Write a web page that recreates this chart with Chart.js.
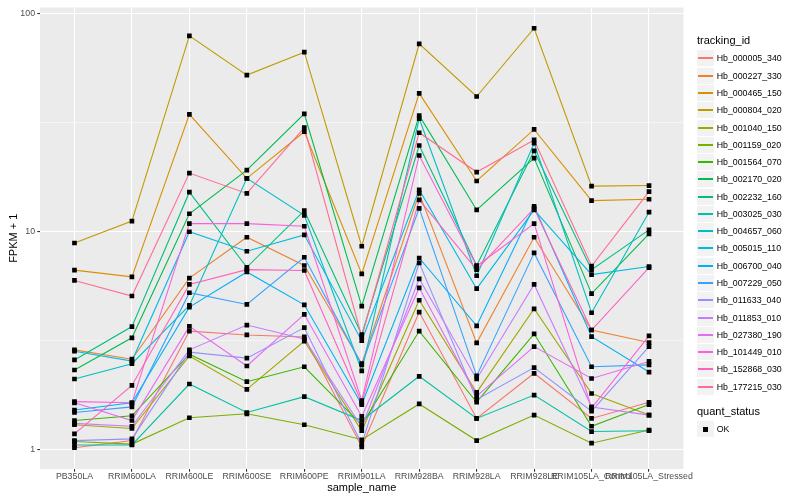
<!DOCTYPE html>
<html>
<head>
<meta charset="utf-8">
<script src="https://cdn.jsdelivr.net/npm/chart.js@4"></script>
<style>
  body { margin: 0; background: #fff; }
  #wrap { position: relative; width: 800px; height: 500px; font-family: 'Liberation Sans', Arial, sans-serif; color: #000; }
  #chart { position: absolute; left: 0; top: 0; }
  .ttl { position: absolute; font-size: 11px; line-height: 13px; white-space: nowrap; }
  .key { position: absolute; width: 17px; height: 16px; background: #f2f2f2; }
  .key span { position: absolute; left: 1px; width: 15px; top: 7px; height: 2px; }
  .key b { position: absolute; left: 6px; top: 6px; width: 5px; height: 5px; background: #000; }
  .lbl { position: absolute; font-size: 8.8px; line-height: 10px; white-space: nowrap; }
</style>
</head>
<body>
<div id="wrap">
  <canvas id="chart" width="800" height="500"></canvas>
  <div id="legend"></div>
</div>
<script>
const categories = ['PB350LA', 'RRIM600LA', 'RRIM600LE', 'RRIM600SE', 'RRIM600PE', 'RRIM901LA',
  'RRIM928BA', 'RRIM928LA', 'RRIM928LE', 'RRIM105LA_Control', 'RRIM105LA_Stressed'];

const trackingIds = ['Hb_000005_340', 'Hb_000227_330', 'Hb_000465_150', 'Hb_000804_020', 'Hb_001040_150',
  'Hb_001159_020', 'Hb_001564_070', 'Hb_002170_020', 'Hb_002232_160', 'Hb_003025_030',
  'Hb_004657_060', 'Hb_005015_110', 'Hb_006700_040', 'Hb_007229_050', 'Hb_011633_040',
  'Hb_011853_010', 'Hb_027380_190', 'Hb_101449_010', 'Hb_152868_030', 'Hb_177215_030'];

// FPKM + 1, one row per tracking id, in category order
const hb000005 = [1.02, 1.10, 3.5, 3.36, 3.29, 1.03, 4.28, 1.39, 2.24, 1.39, 1.65];
const hb000227 = [2.87, 2.60, 6.13, 9.44, 7.0, 2.48, 15.0, 3.09, 9.44, 3.54, 3.10];
const hb000465 = [6.67, 6.21, 34.6, 17.6, 28.8, 6.41, 43.2, 17.1, 29.5, 13.9, 14.1];
const hb000804 = [8.88, 11.2, 79.3, 52.4, 66.8, 8.58, 72.9, 41.8, 86, 16.2, 16.3];
const hb001040 = [1.30, 1.25, 2.69, 1.89, 3.15, 1.22, 4.85, 1.83, 4.43, 1.81, 1.44];
const hb001159 = [1.09, 1.06, 1.40, 1.46, 1.30, 1.11, 1.62, 1.10, 1.44, 1.07, 1.23];
const hb001564 = [1.36, 1.43, 2.74, 2.05, 2.40, 1.30, 3.50, 1.65, 3.40, 1.28, 1.61];
const hb002170 = [2.32, 3.26, 12.1, 19.2, 34.8, 4.56, 34.2, 12.6, 21.8, 5.2, 9.78];
const hb002232 = [2.58, 3.67, 15.2, 6.87, 12.5, 3.37, 24.9, 7.0, 23.5, 6.7, 10.2];
const hb003025 = [1.05, 1.05, 2.0, 1.48, 1.75, 1.36, 2.17, 1.39, 1.78, 1.21, 1.22];
const hb004657 = [2.11, 2.48, 4.59, 17.6, 11.9, 2.30, 33.1, 6.28, 25.5, 4.25, 12.3];
const hb005015 = [2.83, 2.55, 10.0, 8.14, 9.68, 3.16, 15.6, 5.48, 12.6, 6.36, 6.93];
const hb006700 = [1.52, 1.64, 4.51, 6.54, 4.62, 1.61, 7.58, 3.70, 13.1, 3.30, 2.27];
const hb007229 = [1.48, 1.57, 5.25, 4.64, 7.64, 2.45, 12.8, 2.18, 8.0, 2.40, 2.45];
const hb011633 = [1.10, 1.12, 2.80, 2.63, 3.63, 1.06, 7.2, 1.70, 2.38, 1.50, 2.97];
const hb011853 = [1.32, 1.28, 2.87, 3.73, 3.22, 1.27, 6.08, 2.11, 5.73, 1.57, 1.44];
const hb027380 = [1.64, 1.36, 3.68, 2.42, 4.18, 1.42, 5.53, 1.76, 2.97, 2.12, 2.54];
const hb101449 = [1.66, 1.64, 10.9, 10.9, 10.6, 1.68, 22.4, 6.96, 10.9, 1.55, 3.33];
const hb152868 = [1.18, 1.97, 5.73, 6.7, 6.64, 1.64, 14.0, 6.7, 12.8, 3.54, 6.84];
const hb177215 = [5.98, 5.07, 18.6, 15.0, 30.1, 3.30, 28.5, 18.8, 26.4, 6.96, 15.3];

const seriesValues = [hb000005, hb000227, hb000465, hb000804, hb001040, hb001159, hb001564,
  hb002170, hb002232, hb003025, hb004657, hb005015, hb006700, hb007229, hb011633,
  hb011853, hb027380, hb101449, hb152868, hb177215];

const colors = ['#F8766D', '#EA8331', '#D89000', '#C09B00', '#A3A500', '#7CAE00', '#39B600',
  '#00BB4E', '#00BF7D', '#00C1A3', '#00BFC4', '#00BAE0', '#00B0F6', '#35A2FF', '#9590FF',
  '#C77CFF', '#E76BF3', '#FA62DB', '#FF62BC', '#FF6C91'];

const yMajor = [1, 10, 100];
const yMinor = [Math.sqrt(10), Math.sqrt(1000)];

const font = "'Liberation Sans', Arial, sans-serif";
Chart.defaults.font.family = font;

const panelBg = {
  id: 'panelBg',
  beforeDraw(chart) {
    const { ctx, chartArea: a } = chart;
    ctx.save();
    ctx.fillStyle = '#EBEBEB';
    ctx.fillRect(a.left, a.top, a.right - a.left, a.bottom - a.top);
    ctx.restore();
  }
};

const lineSets = seriesValues.map((vals, i) => ({
  type: 'line',
  label: trackingIds[i],
  data: vals.map((v, j) => ({ x: j, y: v })),
  borderColor: colors[i],
  borderWidth: 1.1,
  pointRadius: 0,
  fill: false,
  tension: 0,
  order: seriesValues.length - i
}));

const pointSet = {
  type: 'scatter',
  label: 'OK',
  data: seriesValues.flatMap(vals => vals.map((v, j) => ({ x: j, y: v }))),
  pointStyle: 'rect',
  pointRadius: 3.3,
  backgroundColor: '#000',
  borderWidth: 0,
  showLine: false,
  order: 0
};

const isMajor = v => yMajor.some(m => Math.abs(m - v) < 1e-6);

const options = {
  responsive: false,
  animation: false,
  layout: { padding: { left: 0, right: 116.5, top: 5.5, bottom: 0 } },
  plugins: { legend: { display: false }, tooltip: { enabled: false } },
  scales: {
    x: {
      type: 'linear',
      min: -0.6,
      max: 10.6,
      afterBuildTicks: s => { s.ticks = categories.map((c, i) => ({ value: i })); },
      afterFit: s => { s.height = 31; },
      border: { display: false },
      grid: { color: '#FFFFFF', lineWidth: 1.07, tickColor: '#333333', tickLength: 2.75 },
      ticks: {
        autoSkip: false, maxRotation: 0, minRotation: 0, padding: 0,
        color: '#4D4D4D', font: { size: 8.8 },
        callback: v => categories[v]
      },
      title: { display: true, text: 'sample_name', color: '#000', font: { size: 11 }, padding: { top: 0, bottom: 5.9 } }
    },
    y: {
      type: 'logarithmic',
      min: 0.8145,
      max: 107.1,
      afterBuildTicks: s => { s.ticks = [1, yMinor[0], 10, yMinor[1], 100].map(v => ({ value: v })); },
      afterFit: s => { s.width = 40; },
      border: { display: false },
      grid: {
        color: '#FFFFFF',
        lineWidth: c => isMajor(c.tick.value) ? 1.07 : 0.53,
        tickColor: c => isMajor(c.tick.value) ? '#333333' : 'rgba(0,0,0,0)',
        tickLength: 2.75
      },
      ticks: {
        padding: 2.2, color: '#4D4D4D', font: { size: 8.8 },
        callback: v => isMajor(v) ? String(Math.round(v)) : ''
      },
      title: { display: true, text: 'FPKM + 1', color: '#000', font: { size: 11 }, padding: { top: 7.7, bottom: 0 } }
    }
  }
};

new Chart(document.getElementById('chart'), {
  data: { datasets: [pointSet, ...lineSets] },
  options,
  plugins: [panelBg]
});

// legend (ggplot style, two guides)
const legend = document.getElementById('legend');
const keyTop = 50.4, keyStep = 17.28;
let html = '<div class="ttl" style="left:697px;top:34px">tracking_id</div>';
trackingIds.forEach((id, i) => {
  const top = Math.round(keyTop + i * keyStep);
  html += `<div class="key" style="left:697px;top:${top}px"><span style="background:${colors[i]}"></span></div>`;
  html += `<div class="lbl" style="left:716.7px;top:${top + 3}px">${id}</div>`;
});
html += '<div class="ttl" style="left:697px;top:404.5px">quant_status</div>';
html += '<div class="key" style="left:697px;top:421px"><b></b></div>';
html += '<div class="lbl" style="left:716.7px;top:424px">OK</div>';
legend.innerHTML = html;
</script>
</body>
</html>
